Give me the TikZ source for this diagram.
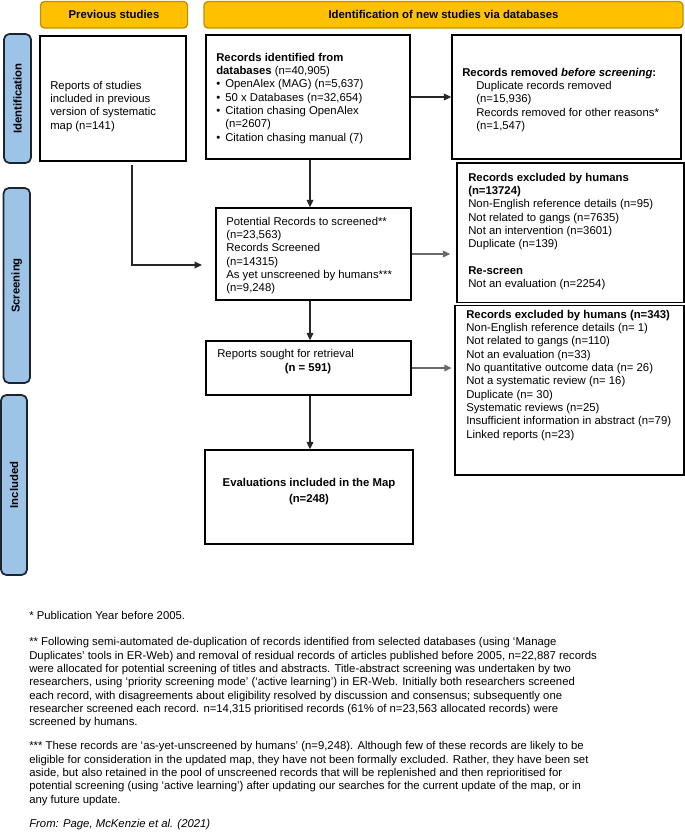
\documentclass[tikz,border=0pt]{standalone}
\usepackage{fontspec}
\setmainfont{Liberation Sans}
\usetikzlibrary{arrows.meta}
\definecolor{gold}{HTML}{FFC000}
\definecolor{goldline}{HTML}{BF9000}
\definecolor{sideblue}{HTML}{9DC3E6}
\definecolor{sideline}{HTML}{1C2430}
\definecolor{conn}{HTML}{262626}
\definecolor{conngray}{HTML}{6A6A6A}
\newcommand\mybul{\makebox[6.75pt][l]{\textbullet}}
\begin{document}
\begin{tikzpicture}[x=0.75pt,y=-0.75pt,
  every node/.style={font=\fontsize{8.5}{10}\selectfont, inner sep=0pt, text=black},
  wh/.style 2 args={minimum width={#1*0.75pt}, minimum height={#2*0.75pt}},
  header/.style={draw=goldline, fill=gold, line width=1pt, rounded corners=3pt,
    font=\fontsize{8.5}{10}\selectfont\bfseries},
  sidebox/.style={draw=sideline, fill=sideblue, line width=1.3pt, rounded corners=4pt},
  sidetext/.style={rotate=90, font=\fontsize{8.5}{10}\selectfont\bfseries},
  flowbox/.style={draw=black, line width=1.1pt, fill=white},
  boxtext/.style={anchor=north west, align=left},
  link/.style={draw=conn, line width=0.9pt, -{Triangle[length=5.5pt,width=5pt]}},
  linkg/.style={link, draw=conngray}
]
\useasboundingbox (0,0) rectangle (685,832);

% headers
\node[header, wh={147}{26.5}] (hprev) at (114,14.8) {Previous studies};
\node[header, wh={479}{26.5}] (hnew) at (443.5,14.8) {Identification of new studies via databases};

% side labels
\node[sidebox, wh={27}{129}] (sid) at (17.5,98.5) {};
\node[sidetext] (tid) at (sid) {Identification};
\node[sidebox, wh={26.5}{195}] (sscr) at (16.8,285.5) {};
\node[sidetext] (tscr) at (sscr) {Screening};
\node[sidebox, wh={26}{180}] (sinc) at (14,485) {};
\node[sidetext] (tinc) at (sinc) {Included};

% flow boxes
\node[flowbox, wh={146}{125}] (prev) at (113,98.5) {};
\node[boxtext] (prevt) at (50,79.7) {\strut Reports of studies\\included in previous\\version of systematic\\map (n=141)};

\node[flowbox, wh={204}{124}] (ident) at (308,97) {};
\node[boxtext] (identt) at (216,51.7) {\strut\textbf{Records identified from}\\\textbf{databases} (n=40,905)\\\mybul OpenAlex (MAG) (n=5,637)\\\mybul 50 x Databases (n=32,654)\\\mybul Citation chasing OpenAlex\\\hspace*{6.75pt}(n=2607)\\\mybul Citation chasing manual (7)};

\node[flowbox, wh={229}{124}] (removed) at (566.5,97) {};
\node[boxtext] (removedt) at (462,66.7) {\strut\textbf{Records removed \textit{before screening}:}\\\hspace*{10.5pt}Duplicate records removed\\\hspace*{10.5pt}(n=15,936)\\\hspace*{10.5pt}Records removed for other reasons*\\\hspace*{10.5pt}(n=1,547)};

\node[flowbox, wh={227}{139.5}] (excl1) at (570.5,232.75) {};
\node[boxtext] (excl1t) at (468,171.7) {\strut\textbf{Records excluded by humans}\\\textbf{(n=13724)}\\Non-English reference details (n=95)\\Not related to gangs (n=7635)\\Not an intervention (n=3601)\\Duplicate (n=139)\\[10pt]\textbf{Re-screen}\\Not an evaluation (n=2254)};

\node[flowbox, wh={229}{169.5}] (excl2) at (569.5,390.25) {};
\node[boxtext] (excl2t) at (466,308.7) {\strut\textbf{Records excluded by humans (n=343)}\\Non-English reference details (n= 1)\\Not related to gangs (n=110)\\Not an evaluation (n=33)\\No quantitative outcome data (n= 26)\\Not a systematic review (n= 16)\\Duplicate (n= 30)\\Systematic reviews (n=25)\\Insufficient information in abstract (n=79)\\Linked reports (n=23)};

\node[flowbox, wh={195}{92}] (pot) at (313.5,254) {};
\node[boxtext] (pott) at (226,215.7) {\strut Potential Records to screened**\\(n=23,563)\\Records Screened\\(n=14315)\\As yet unscreened by humans***\\(n=9,248)};

\node[flowbox, wh={205}{54}] (sought) at (308.5,368) {};
\node[anchor=west] (soughtt1) at (217,355) {Reports sought for retrieval};
\node (soughtt2) at (308,369) {\textbf{(n = 591)}};

\node[flowbox, wh={208}{94}] (eval) at (309,497) {};
\node (evalt1) at (309,484) {\textbf{Evaluations included in the Map}};
\node (evalt2) at (309,500) {\textbf{(n=248)}};

% connectors
\coordinate (bendA) at (132,265);
\coordinate (midA) at (310,0);
\draw[link, shorten <=2.25pt, shorten >=10pt] (prev.south -| bendA) -- (bendA) -- (bendA -| pot.west);
\draw[link] (ident.south -| midA) -- (pot.north -| midA);
\draw[link] (ident.east) -- (ident.east -| removed.west);
\draw[linkg, shorten >=4.5pt] (pot.east) -- (pot.east -| excl1.west);
\draw[link] (pot.south -| midA) -- (sought.north -| midA);
\draw[linkg, shorten >=2pt] (sought.east) -- (sought.east -| excl2.west);
\draw[link] (sought.south -| midA) -- (eval.north -| midA);

% footnotes
\node[boxtext] (foot) at (29,609.5) {\strut * Publication Year before 2005.\\[10pt]
** Following semi-automated de-duplication of records identified from selected databases (using ‘Manage\\
Duplicates’ tools in ER-Web) and removal of residual records of articles published before 2005, n=22,887 records\\
were allocated for potential screening of titles and abstracts. Title-abstract screening was undertaken by two\\
researchers, using ‘priority screening mode’ (‘active learning’) in ER-Web. Initially both researchers screened\\
each record, with disagreements about eligibility resolved by discussion and consensus; subsequently one\\
researcher screened each record. n=14,315 prioritised records (61\% of n=23,563 allocated records) were\\
screened by humans.\\[8pt]
*** These records are ‘as-yet-unscreened by humans’ (n=9,248). Although few of these records are likely to be\\
eligible for consideration in the updated map, they have not been formally excluded. Rather, they have been set\\
aside, but also retained in the pool of unscreened records that will be replenished and then reprioritised for\\
potential screening (using ‘active learning’) after updating our searches for the current update of the map, or in\\
any future update.\\[8pt]
\textit{From: Page, McKenzie et al. (2021)}};
\end{tikzpicture}
\end{document}
